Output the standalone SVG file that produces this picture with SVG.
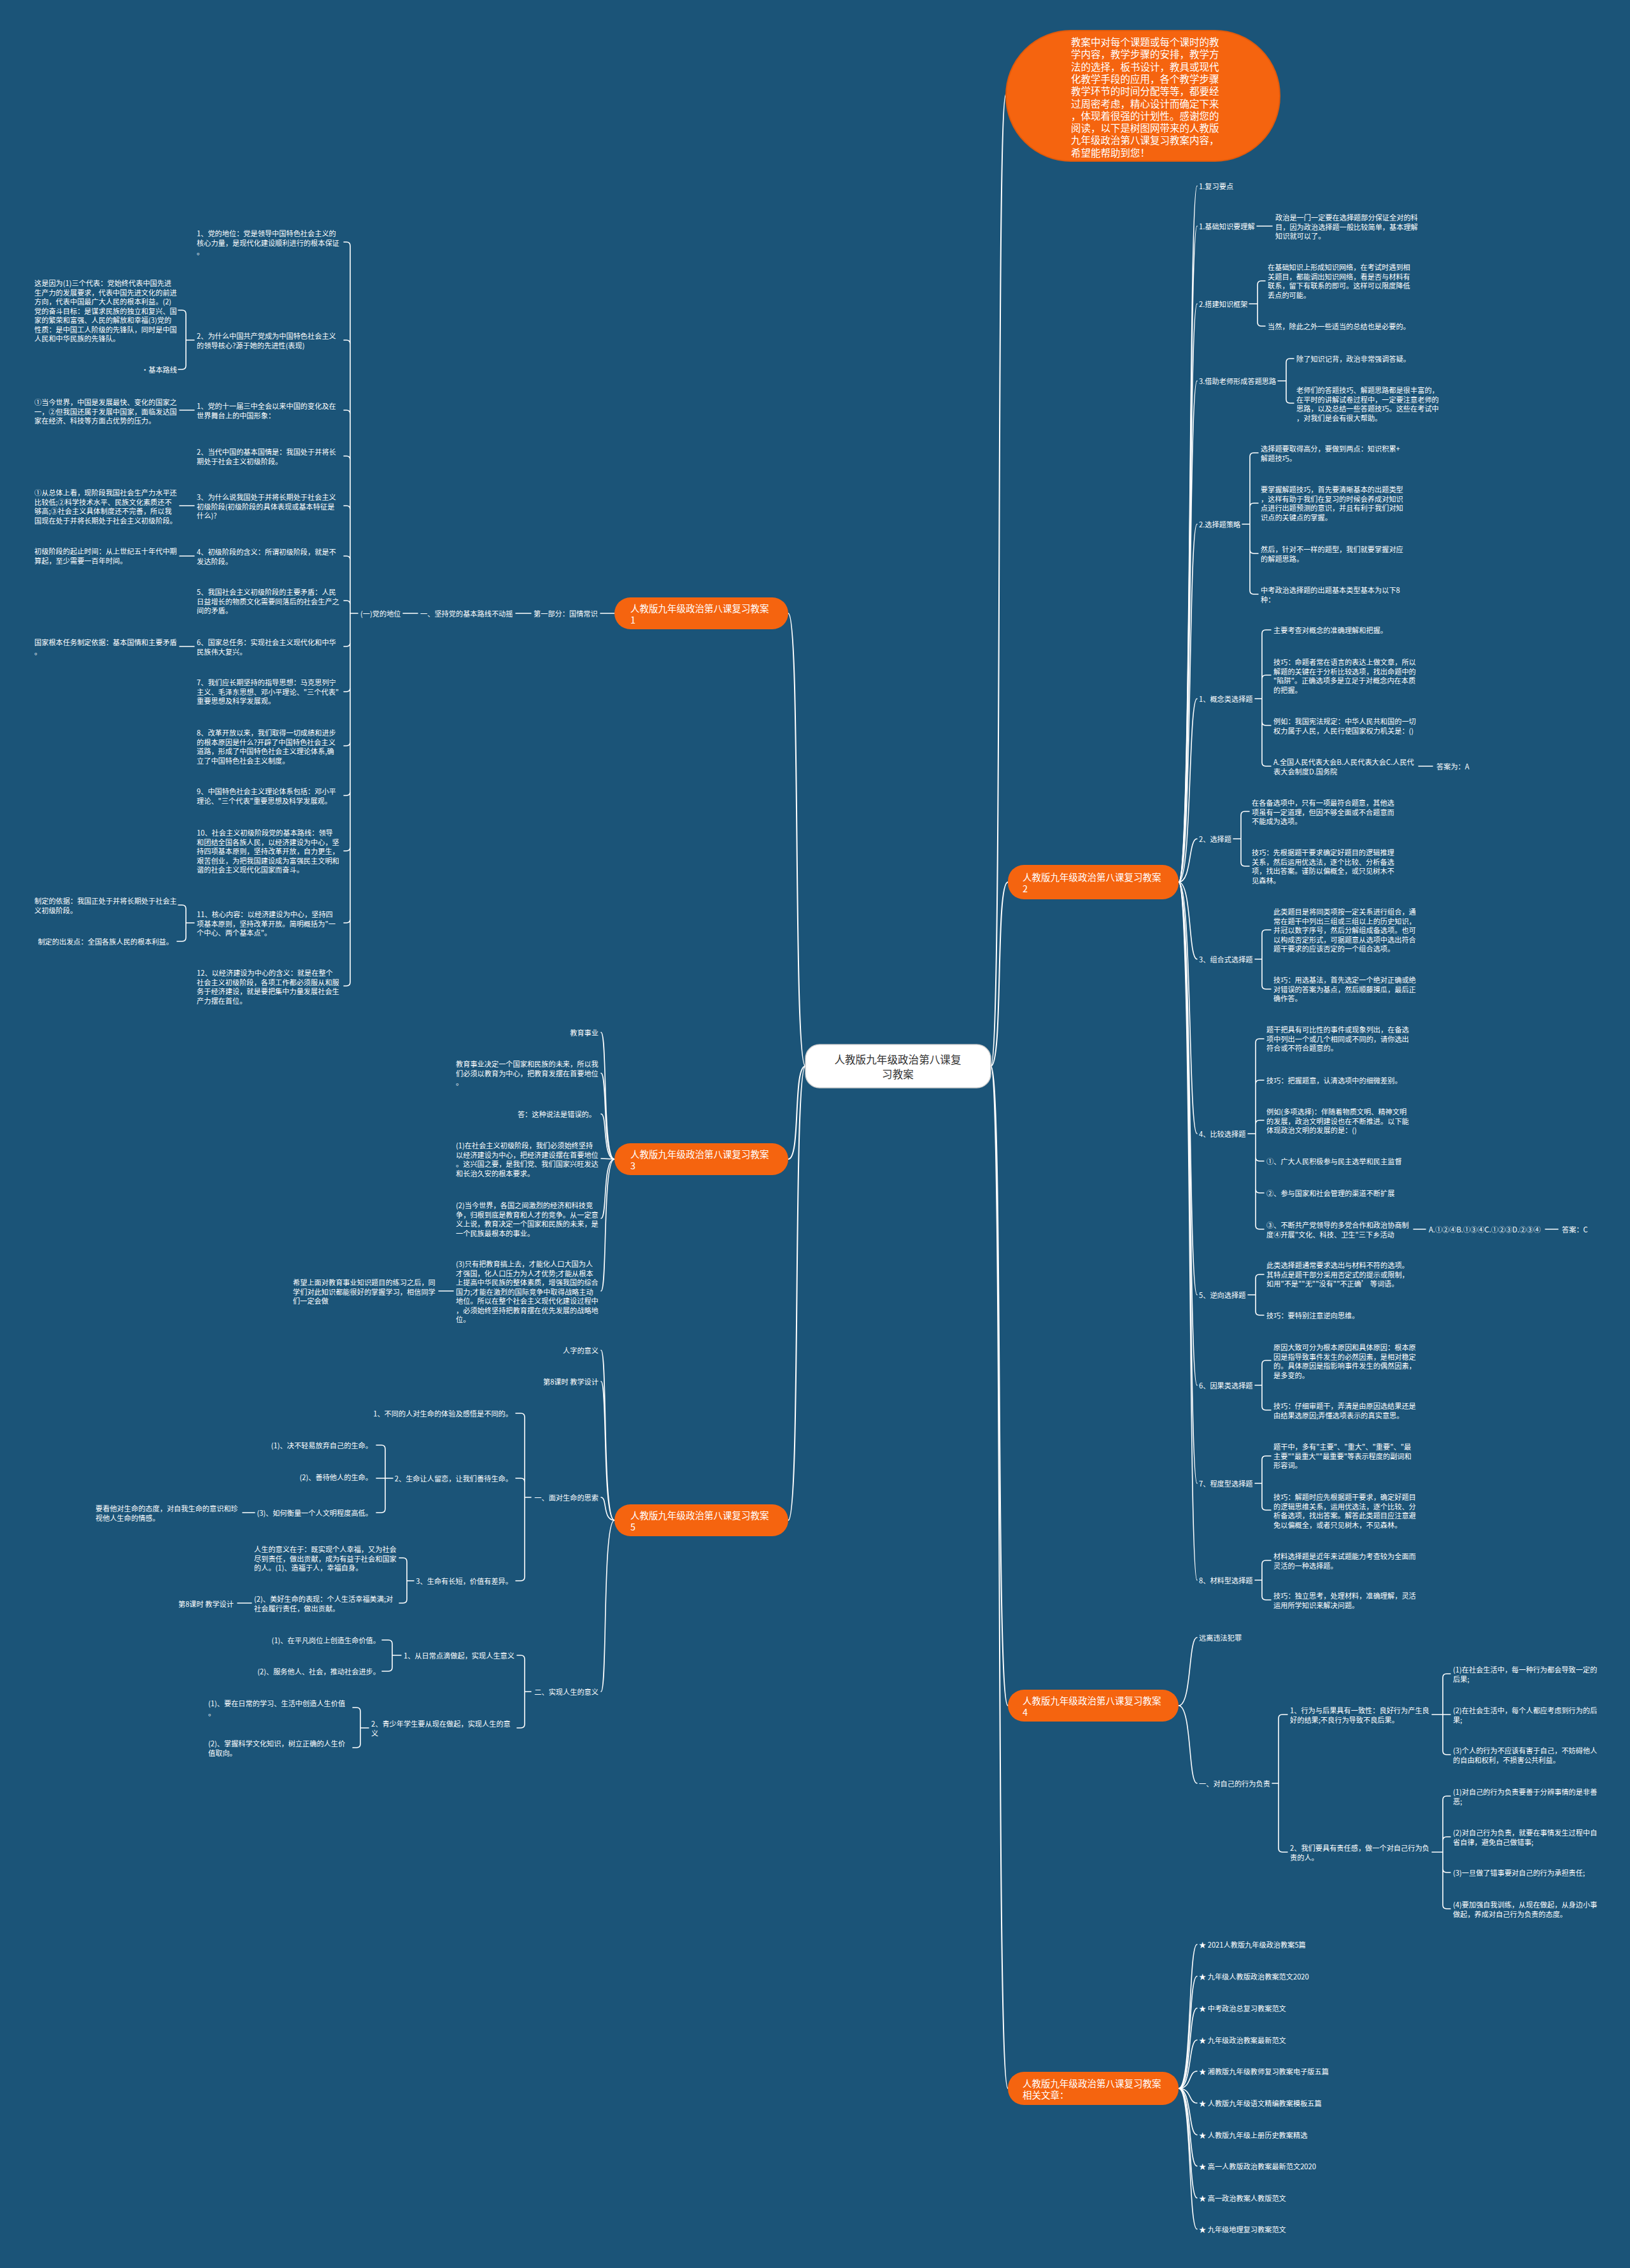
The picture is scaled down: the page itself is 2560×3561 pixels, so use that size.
<svg xmlns="http://www.w3.org/2000/svg" width="2560" height="3561" viewBox="0 0 2560 3561">
<style>
.t{font-family:'Noto Sans CJK SC','Noto Sans',sans-serif;font-size:11.2px;fill:#fff;dominant-baseline:central}
.e{text-anchor:end}
.c{fill:none;stroke:#fff;stroke-width:1.6;stroke-linecap:round}
.m{fill:none;stroke:#fff;stroke-width:2;stroke-linecap:round}
.pill{fill:#f5640f}
.pt{font-family:'Noto Sans CJK SC','Noto Sans',sans-serif;font-size:14.5px;fill:#fff;dominant-baseline:central}
.bt{font-family:'Noto Sans CJK SC','Noto Sans',sans-serif;font-size:15.5px;fill:#fff;dominant-baseline:central}
.ct{font-family:'Noto Sans CJK SC','Noto Sans',sans-serif;font-size:16.6px;fill:#333;dominant-baseline:central;text-anchor:middle}
</style>
<rect width="2560" height="3561" fill="#1b5478"/>
<g id="connectors">
<path class="m" d="M1265 1674 C1245 1674 1258 963 1238 963"/>
<path class="m" d="M1265 1674 C1245 1674 1258 1820 1238 1820"/>
<path class="m" d="M1265 1674 C1245 1674 1258 2387 1238 2387"/>
<path class="m" d="M1556 1674 C1576 1674 1563 148 1580 148"/>
<path class="m" d="M1556 1674 C1576 1674 1563 1385 1583 1385"/>
<path class="m" d="M1556 1674 C1576 1674 1563 2678 1583 2678"/>
<path class="m" d="M1556 1674 C1576 1674 1563 3279 1583 3279"/>
<path class="c" d="M1851 1385 C1872 1385 1866 292 1880 292"/>
<path class="c" d="M1851 1385 C1872 1385 1866 355 1880 355"/>
<path class="c" d="M1851 1385 C1872 1385 1866 477 1880 477"/>
<path class="c" d="M1851 1385 C1872 1385 1866 598 1880 598"/>
<path class="c" d="M1851 1385 C1872 1385 1866 823 1880 823"/>
<path class="c" d="M1851 1385 C1872 1385 1866 1097 1880 1097"/>
<path class="c" d="M1851 1385 C1872 1385 1866 1317 1880 1317"/>
<path class="c" d="M1851 1385 C1872 1385 1866 1506 1880 1506"/>
<path class="c" d="M1851 1385 C1872 1385 1866 1780 1880 1780"/>
<path class="c" d="M1851 1385 C1872 1385 1866 2033 1880 2033"/>
<path class="c" d="M1851 1385 C1872 1385 1866 2175 1880 2175"/>
<path class="c" d="M1851 1385 C1872 1385 1866 2329 1880 2329"/>
<path class="c" d="M1851 1385 C1872 1385 1866 2481 1880 2481"/>
<path class="c" d="M1974 355 H1998"/>
<path class="c" d="M1962 477 H1975 M1975 477 V447 Q1975 441 1981 441 H1987 M1975 477 V506 Q1975 512 1981 512 H1987"/>
<path class="c" d="M2007 598 H2020 M2020 598 V569 Q2020 563 2026 563 H2032 M2020 598 V627 Q2020 633 2026 633 H2032"/>
<path class="c" d="M1951 823 H1963 M1963 823 V717 Q1963 711 1969 711 H1976 M1963 823 V796 Q1963 790 1969 790 H1976 M1963 823 V863 Q1963 869 1969 869 H1976 M1963 823 V927 Q1963 933 1969 933 H1976"/>
<path class="c" d="M1971 1097 H1982 M1982 1097 V995 Q1982 989 1988 989 H1996 M1982 1097 V1066 Q1982 1060 1988 1060 H1996 M1982 1097 V1133 Q1982 1139 1988 1139 H1996 M1982 1097 V1197 Q1982 1203 1988 1203 H1996"/>
<path class="c" d="M2228 1203 H2250"/>
<path class="c" d="M1937 1317 H1949 M1949 1317 V1280 Q1949 1274 1955 1274 H1962 M1949 1317 V1354 Q1949 1360 1955 1360 H1962"/>
<path class="c" d="M1971 1506 H1982 M1982 1506 V1466 Q1982 1460 1988 1460 H1996 M1982 1506 V1547 Q1982 1553 1988 1553 H1996"/>
<path class="c" d="M1960 1780 H1972 M1972 1780 V1637 Q1972 1631 1978 1631 H1985 M1972 1780 V1702 Q1972 1696 1978 1696 H1985 M1972 1780 V1765 Q1972 1759 1978 1759 H1985 M1972 1780 V1817 Q1972 1823 1978 1823 H1985 M1972 1780 V1867 Q1972 1873 1978 1873 H1985 M1972 1780 V1924 Q1972 1930 1978 1930 H1985"/>
<path class="c" d="M2220 1930 H2239 M2427 1930 H2447"/>
<path class="c" d="M1960 2033 H1972 M1972 2033 V2007 Q1972 2001 1978 2001 H1985 M1972 2033 V2059 Q1972 2065 1978 2065 H1985"/>
<path class="c" d="M1971 2175 H1982 M1982 2175 V2142 Q1982 2136 1988 2136 H1996 M1982 2175 V2208 Q1982 2214 1988 2214 H1996"/>
<path class="c" d="M1971 2329 H1982 M1982 2329 V2292 Q1982 2286 1988 2286 H1996 M1982 2329 V2365 Q1982 2371 1988 2371 H1996"/>
<path class="c" d="M1971 2481 H1982 M1982 2481 V2456 Q1982 2450 1988 2450 H1996 M1982 2481 V2506 Q1982 2512 1988 2512 H1996"/>
<path class="c" d="M1851 2678 C1872 2678 1866 2571 1880 2571"/>
<path class="c" d="M1851 2678 C1872 2678 1866 2800 1880 2800"/>
<path class="c" d="M1998 2800 H2008 M2008 2800 V2698 Q2008 2692 2014 2692 H2022 M2008 2800 V2902 Q2008 2908 2014 2908 H2022"/>
<path class="c" d="M2249 2692 H2278 M2266 2692 V2634 Q2266 2628 2272 2628 H2278 M2266 2692 V2749 Q2266 2755 2272 2755 H2278"/>
<path class="c" d="M2249 2908 H2266 M2266 2908 V2826 Q2266 2820 2272 2820 H2278 M2266 2908 V2890 Q2266 2884 2272 2884 H2278 M2266 2908 V2934 Q2266 2940 2272 2940 H2278 M2266 2908 V2991 Q2266 2997 2272 2997 H2278"/>
<path class="c" d="M1851 3279 C1872 3279 1866 3053 1880 3053"/>
<path class="c" d="M1851 3279 C1872 3279 1866 3103 1880 3103"/>
<path class="c" d="M1851 3279 C1872 3279 1866 3153 1880 3153"/>
<path class="c" d="M1851 3279 C1872 3279 1866 3203 1880 3203"/>
<path class="c" d="M1851 3279 C1872 3279 1866 3252 1880 3252"/>
<path class="c" d="M1851 3279 C1872 3279 1866 3302 1880 3302"/>
<path class="c" d="M1851 3279 C1872 3279 1866 3352 1880 3352"/>
<path class="c" d="M1851 3279 C1872 3279 1866 3401 1880 3401"/>
<path class="c" d="M1851 3279 C1872 3279 1866 3451 1880 3451"/>
<path class="c" d="M1851 3279 C1872 3279 1866 3500 1880 3500"/>
<path class="c" d="M965 963 H943 M834 963 H810 M656 963 H633 M562 963 H550"/>
<path class="c" d="M550 963 V386 Q550 380 544 380 H540 M550 963 V540 Q550 534 544 534 H540 M550 963 V650 Q550 644 544 644 H540 M550 963 V722 Q550 716 544 716 H540 M550 963 V800 Q550 794 544 794 H540 M550 963 V879 Q550 873 544 873 H540 M550 963 V949 Q550 943 544 943 H540 M550 963 V1009 Q550 1015 544 1015 H540 M550 963 V1080 Q550 1086 544 1086 H540 M550 963 V1165 Q550 1171 544 1171 H540 M550 963 V1243 Q550 1249 544 1249 H540 M550 963 V1330 Q550 1336 544 1336 H540 M550 963 V1443 Q550 1449 544 1449 H540 M550 963 V1542 Q550 1548 544 1548 H540"/>
<path class="c" d="M305 534 H292 M292 534 V493 Q292 487 286 487 H280 M292 534 V574 Q292 580 286 580 H280"/>
<path class="c" d="M305 644 H282 M305 794 H282 M305 873 H282 M305 1015 H282"/>
<path class="c" d="M305 1449 H292 M292 1449 V1427 Q292 1421 286 1421 H280 M292 1449 V1472 Q292 1478 286 1478 H278"/>
<path class="c" d="M965 1820 C946 1820 954 1621 944 1621"/>
<path class="c" d="M965 1820 C946 1820 954 1685 944 1685"/>
<path class="c" d="M965 1820 C946 1820 954 1749 944 1749"/>
<path class="c" d="M965 1820 L944 1819"/>
<path class="c" d="M965 1820 C946 1820 954 1913 944 1913"/>
<path class="c" d="M965 1820 C946 1820 954 2027 944 2027"/>
<path class="c" d="M712 2027 H689"/>
<path class="c" d="M965 2387 C946 2387 954 2120 944 2120"/>
<path class="c" d="M965 2387 C946 2387 954 2169 944 2169"/>
<path class="c" d="M965 2387 C946 2387 954 2351 944 2351"/>
<path class="c" d="M965 2387 C946 2387 954 2656 944 2656"/>
<path class="c" d="M834 2351 H824 M824 2351 V2225 Q824 2219 818 2219 H810 M824 2351 V2327 Q824 2321 818 2321 H810 M824 2351 V2476 Q824 2482 818 2482 H810"/>
<path class="c" d="M617 2321 H605 M605 2321 V2275 Q605 2269 599 2269 H591 M605 2321 H591 M605 2321 V2369 Q605 2375 599 2375 H591"/>
<path class="c" d="M400 2375 H381"/>
<path class="c" d="M650 2482 H639 M639 2482 V2452 Q639 2446 633 2446 H627 M639 2482 V2511 Q639 2517 633 2517 H627"/>
<path class="c" d="M395 2517 H373"/>
<path class="c" d="M834 2656 H824 M824 2656 V2605 Q824 2599 818 2599 H812 M824 2656 V2707 Q824 2713 818 2713 H812"/>
<path class="c" d="M630 2599 H616 M616 2599 V2581 Q616 2575 610 2575 H600 M616 2599 V2618 Q616 2624 610 2624 H600"/>
<path class="c" d="M579 2713 H566 M566 2713 V2687 Q566 2681 560 2681 H554 M566 2713 V2738 Q566 2744 560 2744 H554"/>
</g>

<g id="center">
<rect x="1265" y="1640" width="291" height="68" rx="22" fill="#fff" stroke="#d0d0d0" stroke-width="1.5"/>
<text class="ct"><tspan x="1410" y="1663">人教版九年级政治第八课复</tspan><tspan x="1410" y="1686">习教案</tspan></text>
</g>

<g id="intro">
<rect x="1580" y="48" width="430" height="205" rx="102" fill="#f5640f" stroke="#e05a0c" stroke-width="2"/>
<text class="bt"><tspan x="1682" y="65">教案中对每个课题或每个课时的教</tspan><tspan x="1682" y="84.3">学内容，教学步骤的安排，教学方</tspan><tspan x="1682" y="103.6">法的选择，板书设计，教具或现代</tspan><tspan x="1682" y="122.9">化教学手段的应用，各个教学步骤</tspan><tspan x="1682" y="142.2">教学环节的时间分配等等，都要经</tspan><tspan x="1682" y="161.5">过周密考虑，精心设计而确定下来</tspan><tspan x="1682" y="180.8">，体现着很强的计划性。感谢您的</tspan><tspan x="1682" y="200.1">阅读，以下是树图网带来的人教版</tspan><tspan x="1682" y="219.4">九年级政治第八课复习教案内容，</tspan><tspan x="1682" y="238.7">希望能帮助到您！</tspan></text>
</g>

<g id="branch1">
<rect class="pill" x="965" y="938" width="273" height="50" rx="25"/>
<text class="pt"><tspan x="990" y="954">人教版九年级政治第八课复习教案</tspan><tspan x="990" y="972">1</tspan></text>
</g>
<g id="branch2">
<rect class="pill" x="1583" y="1358" width="268" height="54" rx="25"/>
<text class="pt"><tspan x="1606" y="1376">人教版九年级政治第八课复习教案</tspan><tspan x="1606" y="1394">2</tspan></text>
</g>
<g id="branch3">
<rect class="pill" x="965" y="1795" width="273" height="50" rx="25"/>
<text class="pt"><tspan x="990" y="1811">人教版九年级政治第八课复习教案</tspan><tspan x="990" y="1829">3</tspan></text>
</g>
<g id="branch4">
<rect class="pill" x="1583" y="2653" width="268" height="50" rx="25"/>
<text class="pt"><tspan x="1606" y="2669">人教版九年级政治第八课复习教案</tspan><tspan x="1606" y="2687">4</tspan></text>
</g>
<g id="branch5">
<rect class="pill" x="965" y="2362" width="273" height="50" rx="25"/>
<text class="pt"><tspan x="990" y="2378">人教版九年级政治第八课复习教案</tspan><tspan x="990" y="2396">5</tspan></text>
</g>
<g id="branch6">
<rect class="pill" x="1583" y="3253" width="268" height="52" rx="25"/>
<text class="pt"><tspan x="1606" y="3270">人教版九年级政治第八课复习教案</tspan><tspan x="1606" y="3288">相关文章：</tspan></text>
</g>

<g id="r1"><text class="t" x="1883" y="292">1.复习要点</text></g>
<g id="r2"><text class="t" x="1883" y="355">1.基础知识要理解</text></g>
<g id="r2a"><text class="t"><tspan x="2003" y="341">政治是一门一定要在选择题部分保证全对的科</tspan><tspan x="2003" y="355.5">目，因为政治选择题一般比较简单，基本理解</tspan><tspan x="2003" y="370">知识就可以了。</tspan></text></g>
<g id="r3"><text class="t" x="1883" y="477">2.搭建知识框架</text></g>
<g id="r3a"><text class="t"><tspan x="1991" y="419">在基础知识上形成知识网络，在考试时遇到相</tspan><tspan x="1991" y="433.5">关题目，都能调出知识网络，看是否与材料有</tspan><tspan x="1991" y="448">联系，留下有联系的即可。这样可以限度降低</tspan><tspan x="1991" y="462.5">丢点的可能。</tspan></text></g>
<g id="r3b"><text class="t" x="1991" y="512">当然，除此之外一些适当的总结也是必要的。</text></g>
<g id="r4"><text class="t" x="1883" y="598">3.借助老师形成答题思路</text></g>
<g id="r4a"><text class="t" x="2036" y="563">除了知识记背，政治非常强调答疑。</text></g>
<g id="r4b"><text class="t"><tspan x="2036" y="612">老师们的答题技巧、解题思路都是很丰富的，</tspan><tspan x="2036" y="626.5">在平时的讲解试卷过程中，一定要注意老师的</tspan><tspan x="2036" y="641">思路，以及总结一些答题技巧。这些在考试中</tspan><tspan x="2036" y="655.5">，对我们是会有很大帮助。</tspan></text></g>
<g id="r5"><text class="t" x="1883" y="823">2.选择题策略</text></g>
<g id="r5a"><text class="t"><tspan x="1980" y="704">选择题要取得高分，要做到两点：知识积累+</tspan><tspan x="1980" y="718.5">解题技巧。</tspan></text></g>
<g id="r5b"><text class="t"><tspan x="1980" y="768">要掌握解题技巧，首先要清晰基本的出题类型</tspan><tspan x="1980" y="782.5">，这样有助于我们在复习的时候会养成对知识</tspan><tspan x="1980" y="797">点进行出题预测的意识，并且有利于我们对知</tspan><tspan x="1980" y="811.5">识点的关键点的掌握。</tspan></text></g>
<g id="r5c"><text class="t"><tspan x="1980" y="862">然后，针对不一样的题型，我们就要掌握对应</tspan><tspan x="1980" y="876.5">的解题思路。</tspan></text></g>
<g id="r5d"><text class="t"><tspan x="1980" y="926">中考政治选择题的出题基本类型基本为以下8</tspan><tspan x="1980" y="940.5">种：</tspan></text></g>
<g id="r6"><text class="t" x="1883" y="1097">1、概念类选择题</text></g>
<g id="r6a"><text class="t" x="2000" y="989">主要考查对概念的准确理解和把握。</text></g>
<g id="r6b"><text class="t"><tspan x="2000" y="1039">技巧：命题者常在语言的表达上做文章，所以</tspan><tspan x="2000" y="1053.5">解题的关键在于分析比较选项，找出命题中的</tspan><tspan x="2000" y="1068">"陷阱"。正确选项多是立足于对概念内在本质</tspan><tspan x="2000" y="1082.5">的把握。</tspan></text></g>
<g id="r6c"><text class="t"><tspan x="2000" y="1132">例如：我国宪法规定：中华人民共和国的一切</tspan><tspan x="2000" y="1146.5">权力属于人民，人民行使国家权力机关是：()</tspan></text></g>
<g id="r6d"><text class="t"><tspan x="2000" y="1196">A.全国人民代表大会B.人民代表大会C.人民代</tspan><tspan x="2000" y="1210.5">表大会制度D.国务院</tspan></text></g>
<g id="r6e"><text class="t" x="2256" y="1203">答案为：A</text></g>
<g id="r7"><text class="t" x="1883" y="1317">2、选择题</text></g>
<g id="r7a"><text class="t"><tspan x="1966" y="1260">在各备选项中，只有一项最符合题意，其他选</tspan><tspan x="1966" y="1274.5">项虽有一定道理，但因不够全面或不合题意而</tspan><tspan x="1966" y="1289">不能成为选项。</tspan></text></g>
<g id="r7b"><text class="t"><tspan x="1966" y="1338">技巧：先根据题干要求确定好题目的逻辑推理</tspan><tspan x="1966" y="1352.5">关系，然后运用优选法，逐个比较、分析备选</tspan><tspan x="1966" y="1367">项，找出答案。谨防以偏概全，或只见树木不</tspan><tspan x="1966" y="1381.5">见森林。</tspan></text></g>
<g id="r8"><text class="t" x="1883" y="1506">3、组合式选择题</text></g>
<g id="r8a"><text class="t"><tspan x="2000" y="1431">此类题目是将同类项按一定关系进行组合，通</tspan><tspan x="2000" y="1445.5">常在题干中列出三组或三组以上的历史知识，</tspan><tspan x="2000" y="1460">并冠以数字序号，然后分解组成备选项。也可</tspan><tspan x="2000" y="1474.5">以构成否定形式，可据题意从选项中选出符合</tspan><tspan x="2000" y="1489">题干要求的应该否定的一个组合选项。</tspan></text></g>
<g id="r8b"><text class="t"><tspan x="2000" y="1538">技巧：用选基法，首先选定一个绝对正确或绝</tspan><tspan x="2000" y="1552.5">对错误的答案为基点，然后顺藤摸瓜，最后正</tspan><tspan x="2000" y="1567">确作答。</tspan></text></g>
<g id="r9"><text class="t" x="1883" y="1780">4、比较选择题</text></g>
<g id="r9a"><text class="t"><tspan x="1989" y="1616">题干把具有可比性的事件或现象列出，在备选</tspan><tspan x="1989" y="1630.5">项中列出一个或几个相同或不同的，请你选出</tspan><tspan x="1989" y="1645">符合或不符合题意的。</tspan></text></g>
<g id="r9b"><text class="t" x="1989" y="1696">技巧：把握题意，认清选项中的细微差别。</text></g>
<g id="r9c"><text class="t"><tspan x="1989" y="1745">例如(多项选择)：伴随着物质文明、精神文明</tspan><tspan x="1989" y="1759.5">的发展，政治文明建设也在不断推进。以下能</tspan><tspan x="1989" y="1774">体现政治文明的发展的是：()</tspan></text></g>
<g id="r9d"><text class="t" x="1989" y="1823">①、广大人民积极参与民主选举和民主监督</text></g>
<g id="r9e"><text class="t" x="1989" y="1873">②、参与国家和社会管理的渠道不断扩展</text></g>
<g id="r9f"><text class="t"><tspan x="1989" y="1923">③、不断共产党领导的多党合作和政治协商制</tspan><tspan x="1989" y="1937.5">度④开展"文化、科技、卫生"三下乡活动</tspan></text></g>
<g id="r9g"><text class="t" x="2244" y="1930">A.①②④B.①③④C.①②③D.②③④</text></g>
<g id="r9h"><text class="t" x="2453" y="1930">答案：C</text></g>
<g id="r10"><text class="t" x="1883" y="2033">5、逆向选择题</text></g>
<g id="r10a"><text class="t"><tspan x="1989" y="1986">此类选择题通常要求选出与材料不符的选项。</tspan><tspan x="1989" y="2000.5">其特点是题干部分采用否定式的提示或限制，</tspan><tspan x="1989" y="2015">如用"不是""无""没有""不正确’ 等词语。</tspan></text></g>
<g id="r10b"><text class="t" x="1989" y="2065">技巧：要特别注意逆向思维。</text></g>
<g id="r11"><text class="t" x="1883" y="2175">6、因果类选择题</text></g>
<g id="r11a"><text class="t"><tspan x="2000" y="2115">原因大致可分为根本原因和具体原因：根本原</tspan><tspan x="2000" y="2129.5">因是指导致事件发生的必然因素，是相对稳定</tspan><tspan x="2000" y="2144">的。具体原因是指影响事件发生的偶然因素，</tspan><tspan x="2000" y="2158.5">是多变的。</tspan></text></g>
<g id="r11b"><text class="t"><tspan x="2000" y="2207">技巧：仔细审题干，弄清是由原因选结果还是</tspan><tspan x="2000" y="2221.5">由结果选原因;弄懂选项表示的真实意思。</tspan></text></g>
<g id="r12"><text class="t" x="1883" y="2329">7、程度型选择题</text></g>
<g id="r12a"><text class="t"><tspan x="2000" y="2271">题干中，多有"主要"、"重大"、"重要"、"最</tspan><tspan x="2000" y="2285.5">主要""最重大""最重要"等表示程度的副词和</tspan><tspan x="2000" y="2300">形容词。</tspan></text></g>
<g id="r12b"><text class="t"><tspan x="2000" y="2350">技巧：解题时应先根据题干要求，确定好题目</tspan><tspan x="2000" y="2364.5">的逻辑思维关系，运用优选法，逐个比较、分</tspan><tspan x="2000" y="2379">析备选项，找出答案。解答此类题目应注意避</tspan><tspan x="2000" y="2393.5">免以偏概全，或者只见树木，不见森林。</tspan></text></g>
<g id="r13"><text class="t" x="1883" y="2481">8、材料型选择题</text></g>
<g id="r13a"><text class="t"><tspan x="2000" y="2443">材料选择题是近年来试题能力考查较为全面而</tspan><tspan x="2000" y="2457.5">灵活的一种选择题。</tspan></text></g>
<g id="r13b"><text class="t"><tspan x="2000" y="2505">技巧：独立思考，处理材料，准确理解，灵活</tspan><tspan x="2000" y="2519.5">运用所学知识来解决问题。</tspan></text></g>

<g id="s1"><text class="t" x="1883" y="2571">远离违法犯罪</text></g>
<g id="s2"><text class="t" x="1883" y="2800">一、对自己的行为负责</text></g>
<g id="s3"><text class="t"><tspan x="2026" y="2685">1、行为与后果具有一致性：良好行为产生良</tspan><tspan x="2026" y="2699.5">好的结果;不良行为导致不良后果。</tspan></text></g>
<g id="s3a"><text class="t"><tspan x="2282" y="2621">(1)在社会生活中，每一种行为都会导致一定的</tspan><tspan x="2282" y="2635.5">后果;</tspan></text></g>
<g id="s3b"><text class="t"><tspan x="2282" y="2685">(2)在社会生活中，每个人都应考虑到行为的后</tspan><tspan x="2282" y="2699.5">果;</tspan></text></g>
<g id="s3c"><text class="t"><tspan x="2282" y="2748">(3)个人的行为不应该有害于自己，不妨碍他人</tspan><tspan x="2282" y="2762.5">的自由和权利，不损害公共利益。</tspan></text></g>
<g id="s4"><text class="t"><tspan x="2026" y="2901">2、我们要具有责任感，做一个对自己行为负</tspan><tspan x="2026" y="2915.5">责的人。</tspan></text></g>
<g id="s4a"><text class="t"><tspan x="2282" y="2813">(1)对自己的行为负责要善于分辨事情的是非善</tspan><tspan x="2282" y="2827.5">恶;</tspan></text></g>
<g id="s4b"><text class="t"><tspan x="2282" y="2877">(2)对自己行为负责，就要在事情发生过程中自</tspan><tspan x="2282" y="2891.5">省自律，避免自己做错事;</tspan></text></g>
<g id="s4c"><text class="t" x="2282" y="2940">(3)一旦做了错事要对自己的行为承担责任;</text></g>
<g id="s4d"><text class="t"><tspan x="2282" y="2990">(4)要加强自我训练，从现在做起，从身边小事</tspan><tspan x="2282" y="3004.5">做起，养成对自己行为负责的态度。</tspan></text></g>

<g id="a1"><text class="t" x="1883" y="3053">★ 2021人教版九年级政治教案5篇</text></g>
<g id="a2"><text class="t" x="1883" y="3103">★ 九年级人教版政治教案范文2020</text></g>
<g id="a3"><text class="t" x="1883" y="3153">★ 中考政治总复习教案范文</text></g>
<g id="a4"><text class="t" x="1883" y="3203">★ 九年级政治教案最新范文</text></g>
<g id="a5"><text class="t" x="1883" y="3252">★ 湘教版九年级教师复习教案电子版五篇</text></g>
<g id="a6"><text class="t" x="1883" y="3302">★ 人教版九年级语文精编教案模板五篇</text></g>
<g id="a7"><text class="t" x="1883" y="3352">★ 人教版九年级上册历史教案精选</text></g>
<g id="a8"><text class="t" x="1883" y="3401">★ 高一人教版政治教案最新范文2020</text></g>
<g id="a9"><text class="t" x="1883" y="3451">★ 高一政治教案人教版范文</text></g>
<g id="a10"><text class="t" x="1883" y="3500">★ 九年级地理复习教案范文</text></g>

<g id="l0a"><text class="t" x="838" y="963">第一部分：国情常识</text></g>
<g id="l0b"><text class="t" x="660" y="963">一、坚持党的基本路线不动摇</text></g>
<g id="l0c"><text class="t" x="566" y="963">(一)党的地位</text></g>
<g id="l1"><text class="t"><tspan x="309" y="366">1、党的地位：党是领导中国特色社会主义的</tspan><tspan x="309" y="380.5">核心力量，是现代化建设顺利进行的根本保证</tspan><tspan x="309" y="395">。</tspan></text></g>
<g id="l2"><text class="t"><tspan x="309" y="527">2、为什么中国共产党成为中国特色社会主义</tspan><tspan x="309" y="541.5">的领导核心?源于她的先进性(表现)</tspan></text></g>
<g id="l2a"><text class="t"><tspan x="54" y="444">这是因为(1)三个代表：党始终代表中国先进</tspan><tspan x="54" y="458.5">生产力的发展要求，代表中国先进文化的前进</tspan><tspan x="54" y="473">方向，代表中国最广大人民的根本利益。(2)</tspan><tspan x="54" y="487.5">党的奋斗目标：是谋求民族的独立和复兴、国</tspan><tspan x="54" y="502">家的繁荣和富强、人民的解放和幸福(3)党的</tspan><tspan x="54" y="516.5">性质：是中国工人阶级的先锋队，同时是中国</tspan><tspan x="54" y="531">人民和中华民族的先锋队。</tspan></text></g>
<g id="l2b"><text class="t e" x="278" y="580">•基本路线</text></g>
<g id="l3"><text class="t"><tspan x="309" y="637">1、党的十一届三中全会以来中国的变化及在</tspan><tspan x="309" y="651.5">世界舞台上的中国形象：</tspan></text></g>
<g id="l3a"><text class="t"><tspan x="54" y="631">①当今世界，中国是发展最快、变化的国家之</tspan><tspan x="54" y="645.5">一，②但我国还属于发展中国家，面临发达国</tspan><tspan x="54" y="660">家在经济、科技等方面占优势的压力。</tspan></text></g>
<g id="l4"><text class="t"><tspan x="309" y="709">2、当代中国的基本国情是：我国处于并将长</tspan><tspan x="309" y="723.5">期处于社会主义初级阶段。</tspan></text></g>
<g id="l5"><text class="t"><tspan x="309" y="780">3、为什么说我国处于并将长期处于社会主义</tspan><tspan x="309" y="794.5">初级阶段(初级阶段的具体表现或基本特征是</tspan><tspan x="309" y="809">什么)?</tspan></text></g>
<g id="l5a"><text class="t"><tspan x="54" y="773">①从总体上看，现阶段我国社会生产力水平还</tspan><tspan x="54" y="787.5">比较低;②科学技术水平、民族文化素质还不</tspan><tspan x="54" y="802">够高;③社会主义具体制度还不完善，所以我</tspan><tspan x="54" y="816.5">国现在处于并将长期处于社会主义初级阶段。</tspan></text></g>
<g id="l6"><text class="t"><tspan x="309" y="866">4、初级阶段的含义：所谓初级阶段，就是不</tspan><tspan x="309" y="880.5">发达阶段。</tspan></text></g>
<g id="l6a"><text class="t"><tspan x="54" y="865">初级阶段的起止时间：从上世纪五十年代中期</tspan><tspan x="54" y="879.5">算起，至少需要一百年时间。</tspan></text></g>
<g id="l7"><text class="t"><tspan x="309" y="929">5、我国社会主义初级阶段的主要矛盾：人民</tspan><tspan x="309" y="943.5">日益增长的物质文化需要同落后的社会生产之</tspan><tspan x="309" y="958">间的矛盾。</tspan></text></g>
<g id="l8"><text class="t"><tspan x="309" y="1008">6、国家总任务：实现社会主义现代化和中华</tspan><tspan x="309" y="1022.5">民族伟大复兴。</tspan></text></g>
<g id="l8a"><text class="t"><tspan x="54" y="1008">国家根本任务制定依据：基本国情和主要矛盾</tspan><tspan x="54" y="1022.5">。</tspan></text></g>
<g id="l9"><text class="t"><tspan x="309" y="1071">7、我们应长期坚持的指导思想：马克思列宁</tspan><tspan x="309" y="1085.5">主义、毛泽东思想、邓小平理论、"三个代表"</tspan><tspan x="309" y="1100">重要思想及科学发展观。</tspan></text></g>
<g id="l10"><text class="t"><tspan x="309" y="1150">8、改革开放以来，我们取得一切成绩和进步</tspan><tspan x="309" y="1164.5">的根本原因是什么?开辟了中国特色社会主义</tspan><tspan x="309" y="1179">道路，形成了中国特色社会主义理论体系,确</tspan><tspan x="309" y="1193.5">立了中国特色社会主义制度。</tspan></text></g>
<g id="l11"><text class="t"><tspan x="309" y="1242">9、中国特色社会主义理论体系包括：邓小平</tspan><tspan x="309" y="1256.5">理论、"三个代表"重要思想及科学发展观。</tspan></text></g>
<g id="l12"><text class="t"><tspan x="309" y="1307">10、社会主义初级阶段党的基本路线：领导</tspan><tspan x="309" y="1321.5">和团结全国各族人民，以经济建设为中心，坚</tspan><tspan x="309" y="1336">持四项基本原则，坚持改革开放，自力更生，</tspan><tspan x="309" y="1350.5">艰苦创业，为把我国建设成为富强民主文明和</tspan><tspan x="309" y="1365">谐的社会主义现代化国家而奋斗。</tspan></text></g>
<g id="l13"><text class="t"><tspan x="309" y="1435">11、核心内容：以经济建设为中心，坚持四</tspan><tspan x="309" y="1449.5">项基本原则，坚持改革开放。简明概括为"一</tspan><tspan x="309" y="1464">个中心、两个基本点"。</tspan></text></g>
<g id="l13a"><text class="t"><tspan x="54" y="1414">制定的依据：我国正处于并将长期处于社会主</tspan><tspan x="54" y="1428.5">义初级阶段。</tspan></text></g>
<g id="l13b"><text class="t e" x="272" y="1478">制定的出发点：全国各族人民的根本利益。</text></g>
<g id="l14"><text class="t"><tspan x="309" y="1527">12、以经济建设为中心的含义：就是在整个</tspan><tspan x="309" y="1541.5">社会主义初级阶段，各项工作都必须服从和服</tspan><tspan x="309" y="1556">务于经济建设，就是要把集中力量发展社会生</tspan><tspan x="309" y="1570.5">产力摆在首位。</tspan></text></g>

<g id="m1"><text class="t e" x="940" y="1621">教育事业</text></g>
<g id="m2"><text class="t"><tspan x="716" y="1670">教育事业决定一个国家和民族的未来，所以我</tspan><tspan x="716" y="1684.5">们必须以教育为中心，把教育发摆在首要地位</tspan><tspan x="716" y="1699">。</tspan></text></g>
<g id="m3"><text class="t e" x="936" y="1749">答：这种说法是错误的。</text></g>
<g id="m4"><text class="t"><tspan x="716" y="1798">(1)在社会主义初级阶段，我们必须始终坚持</tspan><tspan x="716" y="1812.5">以经济建设为中心，把经济建设摆在首要地位</tspan><tspan x="716" y="1827">。这兴国之要，是我们党、我们国家兴旺发达</tspan><tspan x="716" y="1841.5">和长治久安的根本要求。</tspan></text></g>
<g id="m5"><text class="t"><tspan x="716" y="1892">(2)当今世界，各国之间激烈的经济和科技竞</tspan><tspan x="716" y="1906.5">争，归根到底是教育和人才的竞争。从一定意</tspan><tspan x="716" y="1921">义上说，教育决定一个国家和民族的未来，是</tspan><tspan x="716" y="1935.5">一个民族最根本的事业。</tspan></text></g>
<g id="m6"><text class="t"><tspan x="716" y="1984">(3)只有把教育搞上去，才能化人口大国为人</tspan><tspan x="716" y="1998.5">才强国，化人口压力为人才优势;才能从根本</tspan><tspan x="716" y="2013">上提高中华民族的整体素质，增强我国的综合</tspan><tspan x="716" y="2027.5">国力;才能在激烈的国际竞争中取得战略主动</tspan><tspan x="716" y="2042">地位。所以在整个社会主义现代化建设过程中</tspan><tspan x="716" y="2056.5">，必须始终坚持把教育摆在优先发展的战略地</tspan><tspan x="716" y="2071">位。</tspan></text></g>
<g id="m6a"><text class="t"><tspan x="460" y="2013">希望上面对教育事业知识题目的练习之后，同</tspan><tspan x="460" y="2027.5">学们对此知识都能很好的掌握学习，相信同学</tspan><tspan x="460" y="2042">们一定会做</tspan></text></g>

<g id="p1"><text class="t e" x="940" y="2120">人字的意义</text></g>
<g id="p2"><text class="t e" x="940" y="2169">第8课时 教学设计</text></g>
<g id="p3"><text class="t e" x="940" y="2351">一、面对生命的思索</text></g>
<g id="p3a"><text class="t e" x="805" y="2219">1、不同的人对生命的体验及感悟是不同的。</text></g>
<g id="p3b"><text class="t e" x="805" y="2321">2、生命让人留恋，让我们善待生命。</text></g>
<g id="p3b1"><text class="t e" x="585" y="2269">(1)、决不轻易放弃自己的生命。</text></g>
<g id="p3b2"><text class="t e" x="585" y="2319">(2)、善待他人的生命。</text></g>
<g id="p3b3"><text class="t e" x="585" y="2375">(3)、如何衡量一个人文明程度高低。</text></g>
<g id="p3b3a"><text class="t"><tspan x="150" y="2368">要看他对生命的态度，对自我生命的意识和珍</tspan><tspan x="150" y="2382.5">视他人生命的情感。</tspan></text></g>
<g id="p3c"><text class="t e" x="805" y="2482">3、生命有长短，价值有差异。</text></g>
<g id="p3c1"><text class="t"><tspan x="399" y="2432">人生的意义在于：既实现个人幸福，又为社会</tspan><tspan x="399" y="2446.5">尽到责任，做出贡献，成为有益于社会和国家</tspan><tspan x="399" y="2461">的人。(1)、造福于人，幸福自身。</tspan></text></g>
<g id="p3c2"><text class="t"><tspan x="399" y="2510">(2)、美好生命的表现：个人生活幸福美满;对</tspan><tspan x="399" y="2524.5">社会履行责任，做出贡献。</tspan></text></g>
<g id="p3c2a"><text class="t e" x="367" y="2518">第8课时 教学设计</text></g>
<g id="p4"><text class="t e" x="940" y="2656">二、实现人生的意义</text></g>
<g id="p4a"><text class="t e" x="808" y="2599">1、从日常点滴做起，实现人生意义</text></g>
<g id="p4a1"><text class="t e" x="597" y="2575">(1)、在平凡岗位上创造生命价值。</text></g>
<g id="p4a2"><text class="t e" x="597" y="2624">(2)、服务他人、社会，推动社会进步。</text></g>
<g id="p4b"><text class="t"><tspan x="583" y="2706">2、青少年学生要从现在做起，实现人生的意</tspan><tspan x="583" y="2720.5">义</tspan></text></g>
<g id="p4b1"><text class="t"><tspan x="327" y="2674">(1)、要在日常的学习、生活中创造人生价值</tspan><tspan x="327" y="2688.5">。</tspan></text></g>
<g id="p4b2"><text class="t"><tspan x="327" y="2737">(2)、掌握科学文化知识，树立正确的人生价</tspan><tspan x="327" y="2751.5">值取向。</tspan></text></g>
</svg>
